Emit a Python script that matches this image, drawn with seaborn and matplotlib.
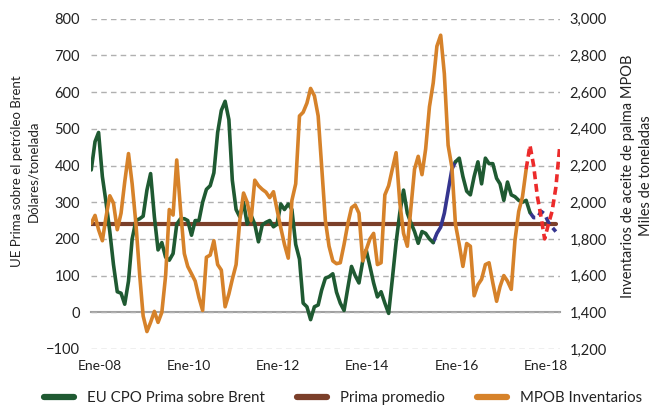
import matplotlib
matplotlib.use('Agg')
import matplotlib.pyplot as plt
from matplotlib.lines import Line2D
from matplotlib.transforms import ScaledTranslation
import pandas as pd
import seaborn as sns

# datos mensuales desde ene-2008
fechas = pd.date_range('2008-01-01', periods=127, freq='MS')

# EU CPO prima sobre Brent (USD/t), ene-08 a nov-17; huecos = None
prima_brent = [388, 465, 490, 370, 300, 220, 130, 56, 52, 22, 85, 200,
               250, 255, 262, 333, 378, 260, 170, 190, 150, 142, 160, 240,
               255, 255, 250, 210, 250, 250, 300, 335, 345, 380, 490, 550,
               575, 525, 360, 280, 260, 300, 240, 265, 240, 192, 238, 245,
               250, 233, 240, 295, 280, 295, 280, 185, 145, 25, 15, -20,
               15, 20, 60, 93, 97, 105, 55, 25, 5, 65, 125, 100,
               80, 140, 170, 125, 80, 42, 56, 25, -3, 90, 190, 270,
               333, 270, 245, 220, 188, 220, 215, 200, 190, None, None, None,
               None, None, 410, 420, 370, 330, 320, 370, 410, 350, 420, 405,
               405, 365, 350, 305, 355, 320, 315, 305, 300, 305, 272]
# tramo azul (estimado) a mediados de 2015 y al final
prima_est_medio = [190, 215, 232, 270, 330, 390, 410]      # sep-15 a mar-16
prima_est_final = [272, 258, 258, 275, 268, 245, 232, 220]  # nov-17 a jun-18
prima_promedio = 240

# MPOB inventarios (miles de t), ene-08 a oct-17
inventarios = [1885, 1928, 1850, 1790, 1920, 2035, 1995, 1850, 1940, 2110, 2265, 2100,
               1880, 1600, 1380, 1295, 1345, 1405, 1345, 1400, 1600, 1960, 1930, 2230,
               1960, 1720, 1650, 1610, 1570, 1480, 1410, 1700, 1712, 1790, 1660, 1630,
               1430, 1500, 1580, 1660, 1900, 2050, 2000, 1900, 2120, 2090, 2070, 2055,
               2025, 2057, 1960, 1860, 1770, 1695, 2010, 2100, 2470, 2490, 2540, 2620,
               2580, 2470, 2200, 1900, 1760, 1680, 1665, 1670, 1770, 1880, 1970, 1985,
               1940, 1680, 1740, 1800, 1830, 1660, 1670, 2040, 2090, 2180, 2270, 2000,
               1830, 1760, 1960, 2180, 2250, 2150, 2290, 2520, 2650, 2850, 2910, 2700,
               2310, 2190, 1880, 1770, 1650, 1775, 1760, 1490, 1550, 1580, 1660, 1670,
               1560, 1460, 1540, 1600, 1570, 1525, 1790, 1950, 2030, 2180]
# proyeccion inventarios (rojo discontinuo), oct-17 a jul-18
inventarios_proy = [2180, 2310, 2200, 2030, 1915, 1800, 1880, 1950, 2080, 2290]

anios_ticks = ['2008', '2010', '2012', '2014', '2016', '2018']
etiquetas_x = ['Ene-08', 'Ene-10', 'Ene-12', 'Ene-14', 'Ene-16', 'Ene-18']
ticks_izq = list(range(-100, 801, 100))
ticks_der = list(range(1200, 3001, 200))

verde = '#1f5a32'
marron = '#7b3f2a'
naranja = '#d6822a'
azul = '#35358f'
rojo = '#ec2b2b'

sns.set_style('white')
plt.rcParams['font.family'] = ['Lato', 'DejaVu Sans']

fig = plt.figure(figsize=(6.53, 4.07), dpi=100)
ax = fig.add_axes([91/653, 1-349/407, (560-91)/653, (349-18.7)/407])
ax2 = ax.twinx()

n_prima = len(prima_brent)
df_prima = pd.DataFrame({'fecha': fechas[:n_prima], 'valor': pd.to_numeric(pd.Series(prima_brent), errors='coerce')})
tramo1 = df_prima.iloc[:93]
tramo2 = df_prima.iloc[98:]
df_est1 = pd.DataFrame({'fecha': fechas[92:92+len(prima_est_medio)], 'valor': prima_est_medio})
df_est2 = pd.DataFrame({'fecha': fechas[118:118+len(prima_est_final)], 'valor': prima_est_final})
df_prom = pd.DataFrame({'fecha': fechas[:126], 'valor': [prima_promedio]*126})
df_inv = pd.DataFrame({'fecha': fechas[:len(inventarios)], 'valor': inventarios})
df_proy = pd.DataFrame({'fecha': fechas[117:117+len(inventarios_proy)], 'valor': inventarios_proy})

sns.lineplot(data=df_prom, x='fecha', y='valor', ax=ax, color=marron, linewidth=3.0)
sns.lineplot(data=df_est1, x='fecha', y='valor', ax=ax, color=azul, linewidth=2.6)
sns.lineplot(data=df_est2, x='fecha', y='valor', ax=ax, color=azul, linewidth=2.6,
             linestyle=(0, (2.2, 1.3)))
sns.lineplot(data=tramo1, x='fecha', y='valor', ax=ax, color=verde, linewidth=2.6)
sns.lineplot(data=tramo2, x='fecha', y='valor', ax=ax, color=verde, linewidth=2.6)
sns.lineplot(data=df_inv, x='fecha', y='valor', ax=ax2, color=naranja, linewidth=2.6)
sns.lineplot(data=df_proy, x='fecha', y='valor', ax=ax2, color=rojo, linewidth=2.6,
             linestyle=(0, (2.2, 1.3)))

ax.set_ylim(-100, 800)
ax2.set_ylim(1200, 3000)
ax.set_xlim(fechas[0] - pd.Timedelta(days=2), fechas[126] + pd.Timedelta(days=4))

ax.set_yticks(ticks_izq)
ax2.set_yticks(ticks_der)
ax2.set_yticklabels([f'{v:,}' for v in ticks_der])
ax.yaxis.grid(True, linestyle=(0, (4, 3)), color='#b0b0b0', linewidth=1.0)
ax.set_axisbelow(True)

for s in ['top', 'left', 'right']:
    ax.spines[s].set_visible(False)
for s in ['top', 'left', 'right', 'bottom']:
    ax2.spines[s].set_visible(False)
ax.spines['bottom'].set_position(('data', 0))
ax.spines['bottom'].set_color('#a0a0a0')
ax.spines['bottom'].set_linewidth(1.5)
ax.spines['bottom'].set_zorder(0.5)

ax.set_xticks([pd.Timestamp(a + '-01-01') for a in anios_ticks])
ax.set_xticklabels(etiquetas_x)
ax.tick_params(axis='x', direction='out', length=2.5, width=1.2, color='#a0a0a0',
               pad=32, labelsize=10, labelcolor='#222222')
ax.tick_params(axis='y', length=0, pad=8, labelsize=10.5, labelcolor='#222222')
ax2.tick_params(axis='y', length=0, pad=7, labelsize=10.5, labelcolor='#222222')
for lab in ax.get_xticklabels():
    lab.set_transform(lab.get_transform() + ScaledTranslation(6/72, 0, fig.dpi_scale_trans))

ax.set_xlabel('')
ax.set_ylabel('')
ax2.set_ylabel('')

fig.text(25/653, 1-171/407, 'UE Prima sobre el petróleo Brent\nDólares/tonelada',
         rotation=90, ha='center', va='center', fontsize=9.5, linespacing=1.45,
         color='#222222')
fig.text(637/653, 1-176/407, 'Inventarios de aceite de palma MPOB\nMiles de toneladas',
         rotation=90, ha='center', va='center', fontsize=10.5, linespacing=1.3,
         color='#222222')

handles = [Line2D([], [], color=verde, linewidth=4.5),
           Line2D([], [], color=marron, linewidth=4.5),
           Line2D([], [], color=naranja, linewidth=4.5)]
etiquetas = ['EU CPO Prima sobre Brent', 'Prima promedio', 'MPOB Inventarios']
fig.legend(handles, etiquetas, loc='center', bbox_to_anchor=(343/653, 1-398/407), ncol=3,
           frameon=False, fontsize=10.8, handlelength=2.0, handletextpad=0.9,
           columnspacing=2.1, labelcolor='#222222', borderpad=0.2)

fig.savefig('out.png', dpi=100)
